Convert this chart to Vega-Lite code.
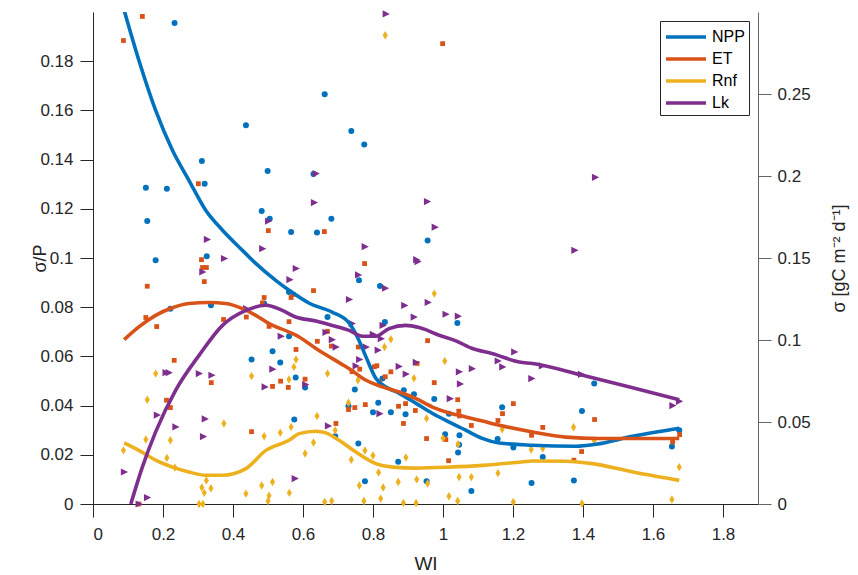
{
"$schema": "https://vega.github.io/schema/vega-lite/v6.json",
"width": 665, "height": 492,
"autosize": {"type": "none"},
"padding": {"left": 93, "top": 12, "right": 100, "bottom": 71},
"background": "white",
"config": {"view": {"stroke": null}, "font": "Liberation Sans",
  "axis": {"grid": false, "tickSize": 13, "labelFontSize": 17, "titleFontSize": 18, "titleFontWeight": "normal", "labelColor": "#262626", "titleColor": "#262626", "domainColor": "#262626", "tickColor": "#262626", "domainWidth": 1, "tickWidth": 1}},
"datasets": {
"pts": [
{"series":"NPP","WI":0.233,"sigma":0.2933},{"series":"NPP","WI":0.437,"sigma":0.231},{"series":"NPP","WI":0.311,"sigma":0.2091},{"series":"NPP","WI":0.499,"sigma":0.2031},{"series":"NPP","WI":0.319,"sigma":0.1953},{"series":"NPP","WI":0.151,"sigma":0.1929},{"series":"NPP","WI":0.211,"sigma":0.1922},{"series":"NPP","WI":0.482,"sigma":0.1787},{"series":"NPP","WI":0.505,"sigma":0.1739},{"series":"NPP","WI":0.155,"sigma":0.1725},{"series":"NPP","WI":0.566,"sigma":0.1659},{"series":"NPP","WI":0.179,"sigma":0.1487},{"series":"NPP","WI":0.325,"sigma":0.1511},{"series":"NPP","WI":0.221,"sigma":0.1191},{"series":"NPP","WI":0.337,"sigma":0.1212},{"series":"NPP","WI":0.489,"sigma":0.1223},{"series":"NPP","WI":0.56,"sigma":0.1293},{"series":"NPP","WI":0.56,"sigma":0.1023},{"series":"NPP","WI":0.513,"sigma":0.0932},{"series":"NPP","WI":0.453,"sigma":0.0881},{"series":"NPP","WI":0.535,"sigma":0.0863},{"series":"NPP","WI":0.579,"sigma":0.0771},{"series":"NPP","WI":0.606,"sigma":0.071},{"series":"NPP","WI":0.575,"sigma":0.0515},{"series":"NPP","WI":0.662,"sigma":0.2498},{"series":"NPP","WI":0.738,"sigma":0.2274},{"series":"NPP","WI":0.775,"sigma":0.2192},{"series":"NPP","WI":0.63,"sigma":0.2012},{"series":"NPP","WI":0.681,"sigma":0.1739},{"series":"NPP","WI":0.64,"sigma":0.1655},{"series":"NPP","WI":0.956,"sigma":0.1607},{"series":"NPP","WI":0.76,"sigma":0.1364},{"series":"NPP","WI":0.82,"sigma":0.1329},{"series":"NPP","WI":0.67,"sigma":0.114},{"series":"NPP","WI":0.834,"sigma":0.111},{"series":"NPP","WI":1.041,"sigma":0.1104},{"series":"NPP","WI":0.748,"sigma":0.0698},{"series":"NPP","WI":0.827,"sigma":0.0765},{"series":"NPP","WI":0.888,"sigma":0.0693},{"series":"NPP","WI":0.917,"sigma":0.0669},{"series":"NPP","WI":0.975,"sigma":0.0641},{"series":"NPP","WI":0.73,"sigma":0.0596},{"series":"NPP","WI":0.815,"sigma":0.0617},{"series":"NPP","WI":0.8,"sigma":0.056},{"series":"NPP","WI":0.851,"sigma":0.056},{"series":"NPP","WI":0.893,"sigma":0.0548},{"series":"NPP","WI":1.017,"sigma":0.0551},{"series":"NPP","WI":0.692,"sigma":0.0413},{"series":"NPP","WI":1.006,"sigma":0.0425},{"series":"NPP","WI":1.047,"sigma":0.0419},{"series":"NPP","WI":1.046,"sigma":0.0362},{"series":"NPP","WI":1.043,"sigma":0.0314},{"series":"NPP","WI":0.758,"sigma":0.0369},{"series":"NPP","WI":0.872,"sigma":0.0258},{"series":"NPP","WI":0.777,"sigma":0.0138},{"series":"NPP","WI":0.953,"sigma":0.0138},{"series":"NPP","WI":1.081,"sigma":0.008},{"series":"NPP","WI":1.169,"sigma":0.059},{"series":"NPP","WI":1.156,"sigma":0.0396},{"series":"NPP","WI":1.201,"sigma":0.0345},{"series":"NPP","WI":1.285,"sigma":0.0287},{"series":"NPP","WI":1.253,"sigma":0.0128},{"series":"NPP","WI":1.397,"sigma":0.0567},{"series":"NPP","WI":1.432,"sigma":0.0734},{"series":"NPP","WI":1.374,"sigma":0.0144},{"series":"NPP","WI":1.654,"sigma":0.035},{"series":"NPP","WI":1.675,"sigma":0.045},
{"series":"ET","WI":0.141,"sigma":0.2973},{"series":"ET","WI":0.087,"sigma":0.2826},{"series":"ET","WI":0.301,"sigma":0.1953},{"series":"ET","WI":0.501,"sigma":0.1667},{"series":"ET","WI":0.31,"sigma":0.149},{"series":"ET","WI":0.313,"sigma":0.1442},{"series":"ET","WI":0.324,"sigma":0.1442},{"series":"ET","WI":0.318,"sigma":0.1356},{"series":"ET","WI":0.155,"sigma":0.1328},{"series":"ET","WI":0.489,"sigma":0.1259},{"series":"ET","WI":0.484,"sigma":0.1226},{"series":"ET","WI":0.572,"sigma":0.1278},{"series":"ET","WI":0.566,"sigma":0.1259},{"series":"ET","WI":0.151,"sigma":0.1137},{"series":"ET","WI":0.182,"sigma":0.1082},{"series":"ET","WI":0.373,"sigma":0.1125},{"series":"ET","WI":0.438,"sigma":0.114},{"series":"ET","WI":0.503,"sigma":0.1083},{"series":"ET","WI":0.56,"sigma":0.1112},{"series":"ET","WI":0.58,"sigma":0.0942},{"series":"ET","WI":0.232,"sigma":0.0876},{"series":"ET","WI":0.338,"sigma":0.074},{"series":"ET","WI":0.513,"sigma":0.0717},{"series":"ET","WI":0.536,"sigma":0.0749},{"series":"ET","WI":0.558,"sigma":0.0711},{"series":"ET","WI":0.606,"sigma":0.0761},{"series":"ET","WI":0.21,"sigma":0.0633},{"series":"ET","WI":0.221,"sigma":0.0588},{"series":"ET","WI":0.453,"sigma":0.0441},{"series":"ET","WI":0.131,"sigma":0.0},{"series":"ET","WI":0.999,"sigma":0.2807},{"series":"ET","WI":0.661,"sigma":0.1661},{"series":"ET","WI":0.776,"sigma":0.1466},{"series":"ET","WI":0.63,"sigma":0.1301},{"series":"ET","WI":0.67,"sigma":0.1053},{"series":"ET","WI":0.641,"sigma":0.0992},{"series":"ET","WI":0.681,"sigma":0.0963},{"series":"ET","WI":0.956,"sigma":0.0996},{"series":"ET","WI":0.758,"sigma":0.0957},{"series":"ET","WI":0.811,"sigma":0.0843},{"series":"ET","WI":0.804,"sigma":0.0837},{"series":"ET","WI":0.926,"sigma":0.0857},{"series":"ET","WI":0.762,"sigma":0.0822},{"series":"ET","WI":0.74,"sigma":0.0807},{"series":"ET","WI":0.851,"sigma":0.0806},{"series":"ET","WI":0.835,"sigma":0.0776},{"series":"ET","WI":0.975,"sigma":0.074},{"series":"ET","WI":0.818,"sigma":0.0744},{"series":"ET","WI":0.748,"sigma":0.0588},{"series":"ET","WI":0.73,"sigma":0.0576},{"series":"ET","WI":0.778,"sigma":0.0606},{"series":"ET","WI":0.873,"sigma":0.0596},{"series":"ET","WI":0.893,"sigma":0.0612},{"series":"ET","WI":0.921,"sigma":0.057},{"series":"ET","WI":1.042,"sigma":0.0636},{"series":"ET","WI":1.045,"sigma":0.0566},{"series":"ET","WI":1.047,"sigma":0.0537},{"series":"ET","WI":0.694,"sigma":0.0491},{"series":"ET","WI":0.887,"sigma":0.0491},{"series":"ET","WI":1.081,"sigma":0.0479},{"series":"ET","WI":0.953,"sigma":0.0399},{"series":"ET","WI":1.008,"sigma":0.0393},{"series":"ET","WI":1.016,"sigma":0.0264},{"series":"ET","WI":1.201,"sigma":0.0612},{"series":"ET","WI":1.17,"sigma":0.0551},{"series":"ET","WI":1.157,"sigma":0.0509},{"series":"ET","WI":1.285,"sigma":0.0467},{"series":"ET","WI":1.253,"sigma":0.0419},{"series":"ET","WI":1.396,"sigma":0.032},{"series":"ET","WI":1.433,"sigma":0.0515},{"series":"ET","WI":1.374,"sigma":0.0267},{"series":"ET","WI":1.656,"sigma":0.0378},{"series":"ET","WI":1.676,"sigma":0.0423},
{"series":"Rnf","WI":0.835,"sigma":0.2858},{"series":"Rnf","WI":0.58,"sigma":0.0881},{"series":"Rnf","WI":0.574,"sigma":0.0836},{"series":"Rnf","WI":0.56,"sigma":0.0759},{"series":"Rnf","WI":0.179,"sigma":0.0795},{"series":"Rnf","WI":0.453,"sigma":0.078},{"series":"Rnf","WI":0.155,"sigma":0.0636},{"series":"Rnf","WI":0.374,"sigma":0.0491},{"series":"Rnf","WI":0.535,"sigma":0.0435},{"series":"Rnf","WI":0.566,"sigma":0.047},{"series":"Rnf","WI":0.489,"sigma":0.0413},{"series":"Rnf","WI":0.221,"sigma":0.0389},{"series":"Rnf","WI":0.151,"sigma":0.0393},{"series":"Rnf","WI":0.087,"sigma":0.0327},{"series":"Rnf","WI":0.211,"sigma":0.0281},{"series":"Rnf","WI":0.234,"sigma":0.0222},{"series":"Rnf","WI":0.324,"sigma":0.0144},{"series":"Rnf","WI":0.311,"sigma":0.0101},{"series":"Rnf","WI":0.318,"sigma":0.0068},{"series":"Rnf","WI":0.337,"sigma":0.0096},{"series":"Rnf","WI":0.437,"sigma":0.0063},{"series":"Rnf","WI":0.482,"sigma":0.0113},{"series":"Rnf","WI":0.513,"sigma":0.0134},{"series":"Rnf","WI":0.503,"sigma":0.0051},{"series":"Rnf","WI":0.5,"sigma":0.0018},{"series":"Rnf","WI":0.561,"sigma":0.0068},{"series":"Rnf","WI":0.303,"sigma":0.0},{"series":"Rnf","WI":0.314,"sigma":0.0},{"series":"Rnf","WI":0.606,"sigma":0.0308},{"series":"Rnf","WI":0.975,"sigma":0.1283},{"series":"Rnf","WI":0.851,"sigma":0.1005},{"series":"Rnf","WI":0.833,"sigma":0.0957},{"series":"Rnf","WI":1.005,"sigma":0.0872},{"series":"Rnf","WI":0.67,"sigma":0.0795},{"series":"Rnf","WI":0.917,"sigma":0.0767},{"series":"Rnf","WI":0.757,"sigma":0.0755},{"series":"Rnf","WI":0.73,"sigma":0.0617},{"series":"Rnf","WI":0.64,"sigma":0.0536},{"series":"Rnf","WI":0.692,"sigma":0.0449},{"series":"Rnf","WI":0.953,"sigma":0.0522},{"series":"Rnf","WI":0.63,"sigma":0.0375},{"series":"Rnf","WI":0.738,"sigma":0.027},{"series":"Rnf","WI":0.777,"sigma":0.0326},{"series":"Rnf","WI":0.8,"sigma":0.0296},{"series":"Rnf","WI":0.894,"sigma":0.0284},{"series":"Rnf","WI":1.0,"sigma":0.0401},{"series":"Rnf","WI":1.043,"sigma":0.0365},{"series":"Rnf","WI":0.816,"sigma":0.0192},{"series":"Rnf","WI":0.761,"sigma":0.0113},{"series":"Rnf","WI":0.829,"sigma":0.0101},{"series":"Rnf","WI":0.872,"sigma":0.0134},{"series":"Rnf","WI":0.925,"sigma":0.015},{"series":"Rnf","WI":0.956,"sigma":0.0125},{"series":"Rnf","WI":1.046,"sigma":0.0165},{"series":"Rnf","WI":1.081,"sigma":0.0164},{"series":"Rnf","WI":1.017,"sigma":0.0047},{"series":"Rnf","WI":1.042,"sigma":0.0018},{"series":"Rnf","WI":0.822,"sigma":0.0033},{"series":"Rnf","WI":0.662,"sigma":0.0012},{"series":"Rnf","WI":0.682,"sigma":0.0018},{"series":"Rnf","WI":0.774,"sigma":0.0018},{"series":"Rnf","WI":0.887,"sigma":0.0006},{"series":"Rnf","WI":0.923,"sigma":0.0006},{"series":"Rnf","WI":1.157,"sigma":0.0188},{"series":"Rnf","WI":1.169,"sigma":0.0456},{"series":"Rnf","WI":1.201,"sigma":0.0012},{"series":"Rnf","WI":1.252,"sigma":0.0332},{"series":"Rnf","WI":1.285,"sigma":0.0339},{"series":"Rnf","WI":1.373,"sigma":0.0468},{"series":"Rnf","WI":1.432,"sigma":0.0387},{"series":"Rnf","WI":1.397,"sigma":0.0003},{"series":"Rnf","WI":1.675,"sigma":0.0225},{"series":"Rnf","WI":1.654,"sigma":0.0027},
{"series":"Lk","WI":0.837,"sigma":0.2988},{"series":"Lk","WI":0.637,"sigma":0.2015},{"series":"Lk","WI":0.632,"sigma":0.1838},{"series":"Lk","WI":0.955,"sigma":0.1844},{"series":"Lk","WI":0.977,"sigma":0.1688},{"series":"Lk","WI":0.777,"sigma":0.1569},{"series":"Lk","WI":0.924,"sigma":0.149},{"series":"Lk","WI":1.435,"sigma":0.1992},{"series":"Lk","WI":1.376,"sigma":0.1547},{"series":"Lk","WI":0.326,"sigma":0.1613},{"series":"Lk","WI":0.484,"sigma":0.1557},{"series":"Lk","WI":0.501,"sigma":0.1725},{"series":"Lk","WI":0.375,"sigma":0.1497},{"series":"Lk","WI":0.313,"sigma":0.1415},{"series":"Lk","WI":0.58,"sigma":0.1436},{"series":"Lk","WI":0.562,"sigma":0.1368},{"series":"Lk","WI":0.438,"sigma":0.1191},{"series":"Lk","WI":0.537,"sigma":0.1023},{"series":"Lk","WI":0.513,"sigma":0.0822},{"series":"Lk","WI":0.491,"sigma":0.0714},{"series":"Lk","WI":0.217,"sigma":0.0801},{"series":"Lk","WI":0.208,"sigma":0.0801},{"series":"Lk","WI":0.303,"sigma":0.0795},{"series":"Lk","WI":0.339,"sigma":0.0785},{"series":"Lk","WI":0.183,"sigma":0.0542},{"series":"Lk","WI":0.236,"sigma":0.047},{"series":"Lk","WI":0.32,"sigma":0.0519},{"series":"Lk","WI":0.315,"sigma":0.0411},{"series":"Lk","WI":0.089,"sigma":0.0195},{"series":"Lk","WI":0.577,"sigma":0.0155},{"series":"Lk","WI":0.155,"sigma":0.0039},{"series":"Lk","WI":0.131,"sigma":0.0},{"series":"Lk","WI":0.928,"sigma":0.1478},{"series":"Lk","WI":0.758,"sigma":0.1397},{"series":"Lk","WI":0.835,"sigma":0.1316},{"series":"Lk","WI":0.732,"sigma":0.1247},{"series":"Lk","WI":0.957,"sigma":0.1229},{"series":"Lk","WI":0.89,"sigma":0.1211},{"series":"Lk","WI":1.008,"sigma":0.1157},{"series":"Lk","WI":1.043,"sigma":0.1145},{"series":"Lk","WI":0.917,"sigma":0.114},{"series":"Lk","WI":0.74,"sigma":0.11},{"series":"Lk","WI":0.828,"sigma":0.1089},{"series":"Lk","WI":0.665,"sigma":0.1047},{"series":"Lk","WI":0.683,"sigma":0.1002},{"series":"Lk","WI":0.694,"sigma":0.0957},{"series":"Lk","WI":0.8,"sigma":0.1035},{"series":"Lk","WI":0.823,"sigma":0.1008},{"series":"Lk","WI":0.78,"sigma":0.0957},{"series":"Lk","WI":0.814,"sigma":0.0938},{"series":"Lk","WI":0.761,"sigma":0.0881},{"series":"Lk","WI":0.751,"sigma":0.0842},{"series":"Lk","WI":0.874,"sigma":0.0839},{"series":"Lk","WI":0.923,"sigma":0.0863},{"series":"Lk","WI":0.894,"sigma":0.0792},{"series":"Lk","WI":1.046,"sigma":0.0806},{"series":"Lk","WI":1.083,"sigma":0.0825},{"series":"Lk","WI":1.049,"sigma":0.0732},{"series":"Lk","WI":0.607,"sigma":0.0728},{"series":"Lk","WI":1.02,"sigma":0.0642},{"series":"Lk","WI":0.819,"sigma":0.0551},{"series":"Lk","WI":0.672,"sigma":0.0476},{"series":"Lk","WI":1.157,"sigma":0.0872},{"series":"Lk","WI":1.17,"sigma":0.0836},{"series":"Lk","WI":1.204,"sigma":0.0927},{"series":"Lk","WI":1.253,"sigma":0.0765},{"series":"Lk","WI":1.283,"sigma":0.0842},{"series":"Lk","WI":1.395,"sigma":0.0791},{"series":"Lk","WI":1.656,"sigma":0.06},{"series":"Lk","WI":1.675,"sigma":0.0626}
],
"lines": [
{"series":"NPP","WI":0.089,"sigma_P":0.2007},{"series":"NPP","WI":0.131,"sigma_P":0.1804},{"series":"NPP","WI":0.179,"sigma_P":0.16},{"series":"NPP","WI":0.227,"sigma_P":0.1438},{"series":"NPP","WI":0.274,"sigma_P":0.1316},{"series":"NPP","WI":0.322,"sigma_P":0.1194},{"series":"NPP","WI":0.37,"sigma_P":0.1113},{"series":"NPP","WI":0.427,"sigma_P":0.1031},{"series":"NPP","WI":0.465,"sigma_P":0.0978},{"series":"NPP","WI":0.522,"sigma_P":0.0909},{"series":"NPP","WI":0.56,"sigma_P":0.0869},{"series":"NPP","WI":0.618,"sigma_P":0.0816},{"series":"NPP","WI":0.683,"sigma_P":0.078},{"series":"NPP","WI":0.732,"sigma_P":0.0735},{"series":"NPP","WI":0.76,"sigma_P":0.0665},{"series":"NPP","WI":0.78,"sigma_P":0.0598},{"series":"NPP","WI":0.808,"sigma_P":0.0511},{"series":"NPP","WI":0.837,"sigma_P":0.0476},{"series":"NPP","WI":0.875,"sigma_P":0.045},{"series":"NPP","WI":0.923,"sigma_P":0.0409},{"series":"NPP","WI":0.969,"sigma_P":0.0369},{"series":"NPP","WI":1.018,"sigma_P":0.0333},{"series":"NPP","WI":1.065,"sigma_P":0.03},{"series":"NPP","WI":1.112,"sigma_P":0.0267},{"series":"NPP","WI":1.161,"sigma_P":0.0248},{"series":"NPP","WI":1.255,"sigma_P":0.0239},{"series":"NPP","WI":1.38,"sigma_P":0.0235},{"series":"NPP","WI":1.437,"sigma_P":0.0243},{"series":"NPP","WI":1.541,"sigma_P":0.0275},{"series":"NPP","WI":1.675,"sigma_P":0.0308},
{"series":"ET","WI":0.089,"sigma_P":0.0668},{"series":"ET","WI":0.131,"sigma_P":0.072},{"series":"ET","WI":0.179,"sigma_P":0.0767},{"series":"ET","WI":0.227,"sigma_P":0.0798},{"series":"ET","WI":0.274,"sigma_P":0.0815},{"series":"ET","WI":0.332,"sigma_P":0.0819},{"series":"ET","WI":0.379,"sigma_P":0.0815},{"series":"ET","WI":0.427,"sigma_P":0.0794},{"series":"ET","WI":0.465,"sigma_P":0.0767},{"series":"ET","WI":0.503,"sigma_P":0.0733},{"series":"ET","WI":0.56,"sigma_P":0.0699},{"series":"ET","WI":0.589,"sigma_P":0.0679},{"series":"ET","WI":0.637,"sigma_P":0.0632},{"series":"ET","WI":0.684,"sigma_P":0.0591},{"series":"ET","WI":0.732,"sigma_P":0.055},{"series":"ET","WI":0.78,"sigma_P":0.0503},{"series":"ET","WI":0.827,"sigma_P":0.0476},{"series":"ET","WI":0.875,"sigma_P":0.0455},{"series":"ET","WI":0.923,"sigma_P":0.0428},{"series":"ET","WI":0.97,"sigma_P":0.0394},{"series":"ET","WI":1.018,"sigma_P":0.037},{"series":"ET","WI":1.065,"sigma_P":0.0354},{"series":"ET","WI":1.113,"sigma_P":0.0337},{"series":"ET","WI":1.161,"sigma_P":0.032},{"series":"ET","WI":1.256,"sigma_P":0.0293},{"series":"ET","WI":1.351,"sigma_P":0.0272},{"series":"ET","WI":1.446,"sigma_P":0.0266},{"series":"ET","WI":1.675,"sigma_P":0.0266},
{"series":"Rnf","WI":0.089,"sigma_P":0.0248},{"series":"Rnf","WI":0.131,"sigma_P":0.0218},{"series":"Rnf","WI":0.179,"sigma_P":0.0178},{"series":"Rnf","WI":0.227,"sigma_P":0.015},{"series":"Rnf","WI":0.274,"sigma_P":0.013},{"series":"Rnf","WI":0.322,"sigma_P":0.0117},{"series":"Rnf","WI":0.37,"sigma_P":0.0117},{"series":"Rnf","WI":0.437,"sigma_P":0.0144},{"series":"Rnf","WI":0.494,"sigma_P":0.0218},{"series":"Rnf","WI":0.56,"sigma_P":0.0259},{"series":"Rnf","WI":0.589,"sigma_P":0.0286},{"series":"Rnf","WI":0.637,"sigma_P":0.0296},{"series":"Rnf","WI":0.665,"sigma_P":0.0289},{"series":"Rnf","WI":0.703,"sigma_P":0.0259},{"series":"Rnf","WI":0.751,"sigma_P":0.0211},{"series":"Rnf","WI":0.808,"sigma_P":0.0164},{"series":"Rnf","WI":0.856,"sigma_P":0.015},{"series":"Rnf","WI":0.923,"sigma_P":0.0146},{"series":"Rnf","WI":1.018,"sigma_P":0.015},{"series":"Rnf","WI":1.113,"sigma_P":0.0157},{"series":"Rnf","WI":1.218,"sigma_P":0.017},{"series":"Rnf","WI":1.256,"sigma_P":0.0175},{"series":"Rnf","WI":1.351,"sigma_P":0.0174},{"series":"Rnf","WI":1.427,"sigma_P":0.0164},{"series":"Rnf","WI":1.542,"sigma_P":0.013},{"series":"Rnf","WI":1.675,"sigma_P":0.0096},
{"series":"Lk","WI":0.108,"sigma_P":0.0},{"series":"Lk","WI":0.141,"sigma_P":0.015},{"series":"Lk","WI":0.179,"sigma_P":0.0293},{"series":"Lk","WI":0.236,"sigma_P":0.0462},{"series":"Lk","WI":0.303,"sigma_P":0.0604},{"series":"Lk","WI":0.37,"sigma_P":0.0726},{"series":"Lk","WI":0.437,"sigma_P":0.0787},{"series":"Lk","WI":0.494,"sigma_P":0.0808},{"series":"Lk","WI":0.541,"sigma_P":0.0787},{"series":"Lk","WI":0.579,"sigma_P":0.076},{"series":"Lk","WI":0.637,"sigma_P":0.0744},{"series":"Lk","WI":0.684,"sigma_P":0.0726},{"series":"Lk","WI":0.732,"sigma_P":0.0706},{"series":"Lk","WI":0.77,"sigma_P":0.0682},{"series":"Lk","WI":0.808,"sigma_P":0.0682},{"series":"Lk","WI":0.846,"sigma_P":0.0713},{"series":"Lk","WI":0.894,"sigma_P":0.0726},{"series":"Lk","WI":0.932,"sigma_P":0.0717},{"series":"Lk","WI":0.989,"sigma_P":0.0686},{"series":"Lk","WI":1.037,"sigma_P":0.0663},{"series":"Lk","WI":1.084,"sigma_P":0.0632},{"series":"Lk","WI":1.142,"sigma_P":0.0611},{"series":"Lk","WI":1.218,"sigma_P":0.0577},{"series":"Lk","WI":1.256,"sigma_P":0.0571},{"series":"Lk","WI":1.399,"sigma_P":0.0523},{"series":"Lk","WI":1.542,"sigma_P":0.0473},{"series":"Lk","WI":1.675,"sigma_P":0.0424}
]
},
"encoding": {
  "x": {"field": "WI", "type": "quantitative", "scale": {"domain": [0, 1.9], "nice": false, "zero": false},
    "axis": {"values": [0, 0.2, 0.4, 0.6, 0.8, 1, 1.2, 1.4, 1.6, 1.8], "format": "~g", "title": "WI", "labelPadding": 9, "titleFontSize": 19, "titleY": 59, "titleBaseline": "middle"}}
},
"layer": [
  {
    "data": {"name": "pts"},
    "mark": {"type": "point", "filled": true, "opacity": 1, "strokeWidth": 0, "size": 36},
    "encoding": {
      "y": {"field": "sigma", "type": "quantitative", "scale": {"domain": [0, 0.3], "nice": false, "zero": false},
        "axis": {"orient": "right", "values": [0, 0.05, 0.1, 0.15, 0.2, 0.25], "format": "~g", "title": "σ [gC m⁻² d⁻¹]", "titleAngle": 270, "titleX": 81, "titleY": 246, "titleAlign": "center", "titleBaseline": "middle", "labelPadding": 6, "domainColor": "#666666", "tickColor": "#666666"}},
      "color": {"field": "series", "type": "nominal", "scale": {"domain": ["NPP", "ET", "Rnf", "Lk"], "range": ["#0072BD", "#D95319", "#EDB120", "#7E2F8E"]}, "legend": null},
      "shape": {"field": "series", "type": "nominal", "scale": {"domain": ["NPP", "ET", "Rnf", "Lk"], "range": ["circle", "M-0.8,-0.8H0.8V0.8H-0.8Z", "M0,-1.4L0.85,0L0,1.4L-0.85,0Z", "M-1.1,-1.2L1.3,0L-1.1,1.2Z"]}, "legend": null}
    }
  },
  {
    "data": {"name": "lines"},
    "mark": {"type": "line", "strokeWidth": 3.6, "interpolate": "monotone", "clip": true},
    "encoding": {
      "y": {"field": "sigma_P", "type": "quantitative", "scale": {"domain": [0, 0.2], "nice": false, "zero": false},
        "axis": {"orient": "left", "values": [0, 0.02, 0.04, 0.06, 0.08, 0.1, 0.12, 0.14, 0.16, 0.18], "format": "~g", "title": "σ/P", "titleAngle": 270, "titleX": -53, "titleY": 246, "titleAlign": "center", "titleBaseline": "middle", "labelPadding": 7}},
      "color": {"field": "series", "type": "nominal", "scale": {"domain": ["NPP", "ET", "Rnf", "Lk"], "range": ["#0072BD", "#D95319", "#EDB120", "#7E2F8E"]},
        "legend": {"orient": "none", "legendX": 567, "legendY": 9, "title": null, "symbolType": "M-1,0H3", "symbolSize": 400, "symbolStrokeWidth": 3.5, "labelFontSize": 16, "labelColor": "#000000", "labelOffset": 24, "rowPadding": 2, "padding": 4, "strokeColor": "#262626", "fillColor": "white"}}
    }
  }
],
"resolve": {"scale": {"y": "independent", "color": "independent", "shape": "independent"}, "legend": {"color": "independent"}}
}
